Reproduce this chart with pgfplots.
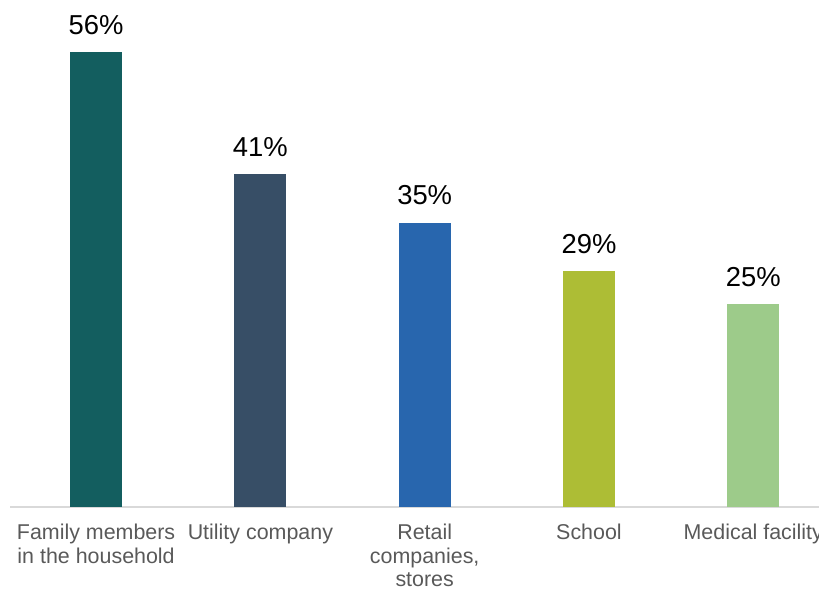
\documentclass[border=0pt]{standalone}
\usepackage{pgfplots}
\pgfplotsset{compat=1.18}
\usepackage{fontspec}
\setmainfont{Liberation Sans}
\definecolor{c1}{HTML}{135E5F}
\definecolor{c2}{HTML}{374E66}
\definecolor{c3}{HTML}{2866AE}
\definecolor{c4}{HTML}{ADBD35}
\definecolor{c5}{HTML}{9DCB8A}
\definecolor{lab}{HTML}{595959}
\definecolor{axl}{HTML}{D9D9D9}
\begin{document}
\begin{tikzpicture}
\begin{axis}[
  at={(0,0)}, anchor=south west,
  scale only axis,
  width=809bp, height=455bp,
  xmin=-0.524, xmax=4.40,
  ymin=0, ymax=56,
  axis y line=none,
  axis x line*=bottom,
  x axis line style={draw=axl, line width=1.5bp, -},
  xtick={0,1,2,3,4},
  xticklabels={{Family members\\in the household},{Utility company},{Retail\\companies,\\stores},{School},{Medical facility}},
  xticklabel style={align=center, font=\fontsize{21.5}{23.8}\selectfont, text=lab, yshift=-13.5bp},
  major tick length=0pt,
  ybar, bar width=52bp, bar shift=0pt,
  /pgf/number format/assume math mode=true,
  nodes near coords={\pgfmathprintnumber{\pgfplotspointmeta}\%},
  every node near coord/.append style={font=\fontsize{27.5}{32}\selectfont, text=black, yshift=14bp},
  clip=false,
]
\addplot[fill=c1, draw=none] coordinates {(0,56)};
\addplot[fill=c2, draw=none] coordinates {(1,41)};
\addplot[fill=c3, draw=none] coordinates {(2,35)};
\addplot[fill=c4, draw=none] coordinates {(3,29)};
\addplot[fill=c5, draw=none] coordinates {(4,25)};
\end{axis}
\pgfresetboundingbox
\path[use as bounding box] (-10bp,-82bp) rectangle (809bp,507bp);
\end{tikzpicture}
\end{document}
